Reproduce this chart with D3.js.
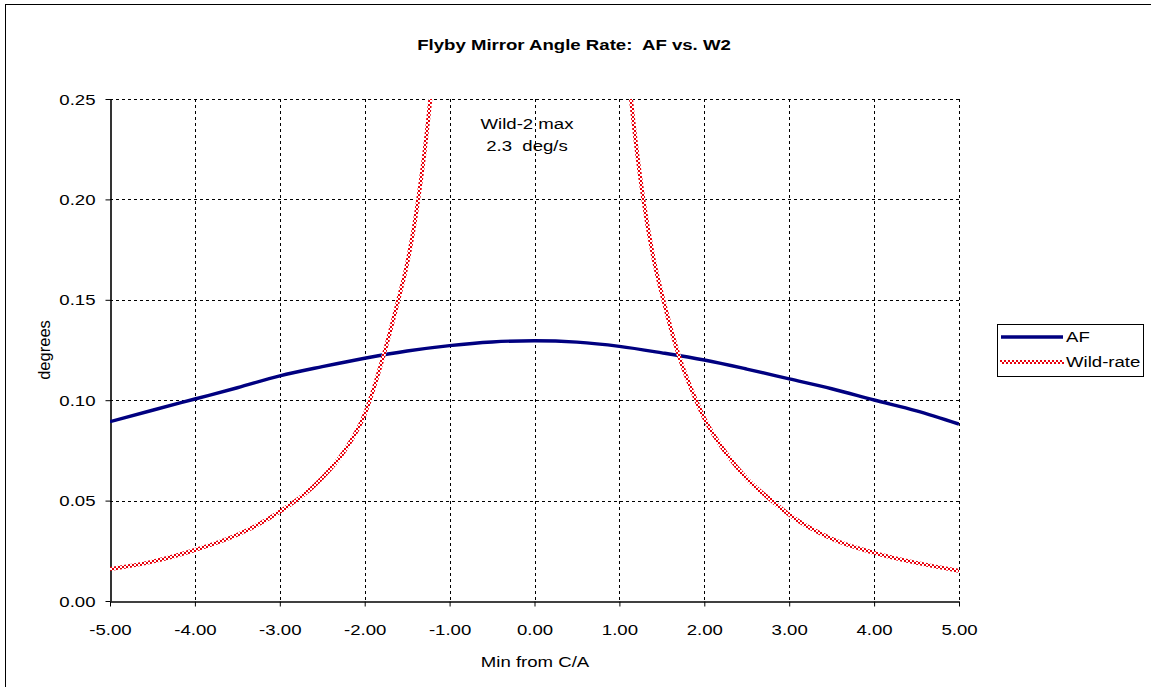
<!DOCTYPE html>
<html>
<head>
<meta charset="utf-8">
<script src="https://cdn.jsdelivr.net/npm/d3@7/dist/d3.min.js"></script>
<style>
  html, body { margin: 0; padding: 0; background: #fff; }
  svg { display: block; }
  text { font-family: "Liberation Sans", Arial, sans-serif; fill: #000; white-space: pre; }
</style>
</head>
<body>
<svg id="chart" width="1151" height="687"></svg>
<script>
// Minutes from closest approach and angle rates (degrees)
const afMinutes = [-5, -4.5, -4, -3.5, -3, -2.5, -2, -1.5, -1, -0.5, 0, 0.5, 1, 1.5, 2, 2.5, 3, 3.5, 4, 4.5, 5];
const afValues  = [0.0893, 0.0950, 0.1006, 0.1062, 0.1121, 0.1167, 0.1209, 0.1245, 0.1272, 0.1290, 0.1296,
                   0.1289, 0.1268, 0.1236, 0.1200, 0.1155, 0.1106, 0.1057, 0.1001, 0.0947, 0.0881];

const wildMinutes = [-5, -4.5, -4, -3.5, -3, -2.5, -2.25, -2, -1.773, -1.604, -1.5, -1.38, -1.3, -1.227, -1.2,
                     0,
                     1.11, 1.137, 1.2, 1.282, 1.4, 1.517, 1.694, 1.902, 2, 2.25, 2.5, 2.794, 3, 3.5, 4, 4.5, 5];
const wildValues  = [0.0159, 0.0196, 0.0254, 0.0330, 0.0445, 0.0613, 0.0740, 0.0930, 0.123, 0.150, 0.168, 0.197, 0.222, 0.250, 0.262,
                     2.3,
                     0.262, 0.250, 0.226, 0.200, 0.171, 0.150, 0.123, 0.100, 0.091, 0.074, 0.061, 0.050, 0.043, 0.031, 0.024, 0.019, 0.0151];

const xTicks = [-5, -4, -3, -2, -1, 0, 1, 2, 3, 4, 5];
const yTicks = [0, 0.05, 0.10, 0.15, 0.20, 0.25];

const seriesNames = ["AF", "Wild-rate"];
const titleText = "Flyby Mirror Angle Rate:  AF vs. W2";
const xLabel = "Min from C/A";
const yLabel = "degrees";
const noteLines = ["Wild-2 max", "2.3  deg/s"];

const STRETCH = 1.2;       // horizontal widening of the chart lettering
const FONT = 15.5;

const svg = d3.select("#chart");
const plot = { left: 110, top: 99, right: 959, bottom: 601 };

const x = d3.scaleLinear().domain([-5, 5]).range([plot.left, plot.right]);
const y = d3.scaleLinear().domain([0, 0.25]).range([plot.bottom, plot.top]);
const fmt = d => d.toFixed(2);

// chart frame
svg.append("rect")
  .attr("x", 5.5).attr("y", 4.5).attr("width", 1200).attr("height", 800)
  .attr("fill", "#fff").attr("stroke", "#000").attr("stroke-width", 1);

const defs = svg.append("defs");
const checker = defs.append("pattern")
  .attr("id", "checker").attr("patternUnits", "userSpaceOnUse")
  .attr("width", 4).attr("height", 4);
checker.append("rect").attr("width", 4).attr("height", 4).attr("fill", "#fff");
checker.append("rect").attr("x", 0).attr("y", 0).attr("width", 2).attr("height", 2).attr("fill", "#e8000b");
checker.append("rect").attr("x", 2).attr("y", 2).attr("width", 2).attr("height", 2).attr("fill", "#e8000b");

defs.append("clipPath").attr("id", "plotClip")
  .append("rect")
  .attr("x", plot.left).attr("y", plot.top)
  .attr("width", plot.right - plot.left).attr("height", plot.bottom - plot.top);

// gridlines
const grid = svg.append("g").attr("stroke", "#000").attr("stroke-width", 1)
  .attr("stroke-dasharray", "3,3");
grid.selectAll("line.gx").data(xTicks.filter(d => d > -5)).join("line")
  .attr("x1", d => Math.round(x(d)) + 0.5).attr("x2", d => Math.round(x(d)) + 0.5)
  .attr("y1", plot.top).attr("y2", plot.bottom);
grid.selectAll("line.gy").data(yTicks.filter(d => d > 0)).join("line")
  .attr("y1", d => Math.round(y(d)) + 0.5).attr("y2", d => Math.round(y(d)) + 0.5)
  .attr("x1", plot.left).attr("x2", plot.right);

// axes
const xAxis = svg.append("g")
  .attr("transform", `translate(0,${plot.bottom + 0.5})`)
  .call(d3.axisBottom(x).tickValues(xTicks).tickFormat(fmt).tickSizeInner(5).tickSizeOuter(0).tickPadding(0));
const yAxis = svg.append("g")
  .attr("transform", `translate(${plot.left + 0.5},0)`)
  .call(d3.axisLeft(y).tickValues(yTicks).tickFormat(fmt).tickSizeInner(5).tickSizeOuter(0).tickPadding(0));

[xAxis, yAxis].forEach(g => {
  g.select(".domain").attr("stroke", "#000").attr("stroke-width", 1.6);
  g.selectAll(".tick line").attr("stroke", "#000");
  g.selectAll(".tick text").attr("font-size", FONT).attr("font-family", "Liberation Sans, Arial, sans-serif").attr("fill", "#000");
});
xAxis.selectAll(".tick text").attr("y", 0).attr("dy", 0)
  .attr("transform", `translate(0,33) scale(${STRETCH},1)`);
yAxis.selectAll(".tick text").attr("x", 0).attr("dy", 0)
  .attr("transform", `translate(-15,5) scale(${STRETCH},1)`);

// series
const afLine = d3.line().x(d => x(d[0])).y(d => y(d[1])).curve(d3.curveMonotoneX);
const wildLine = d3.line().x(d => x(d[0])).y(d => y(d[1])).curve(d3.curveMonotoneX);
const afData = afMinutes.map((m, i) => [m, afValues[i]]);
const wildData = wildMinutes.map((m, i) => [m, wildValues[i]]);

const series = svg.append("g").attr("clip-path", "url(#plotClip)");
series.append("path").datum(afData).attr("d", afLine)
  .attr("fill", "none").attr("stroke", "#000080").attr("stroke-width", 3.4);
series.append("path").datum(wildData).attr("d", wildLine)
  .attr("fill", "none").attr("stroke", "url(#checker)").attr("stroke-width", 4);

// title and labels
function stretchedText(parent, tx, ty, str, opts = {}) {
  return parent.append("text")
    .attr("transform", `translate(${tx},${ty}) scale(${opts.sx || STRETCH},1)`)
    .attr("text-anchor", opts.anchor || "middle")
    .attr("font-size", opts.size || FONT)
    .attr("font-weight", opts.weight || "normal")
    .text(str);
}
stretchedText(svg, 574, 50, titleText, { weight: "bold" });
stretchedText(svg, 535, 667, xLabel);
svg.append("text")
  .attr("transform", "translate(50,350) rotate(-90)")
  .attr("text-anchor", "middle").attr("font-size", 16.5)
  .text(yLabel);

noteLines.forEach((t, i) => stretchedText(svg, 527, 129 + i * 22, t));

// legend
const legend = svg.append("g");
legend.append("rect")
  .attr("x", 997.5).attr("y", 324.5).attr("width", 146).attr("height", 52)
  .attr("fill", "#fff").attr("stroke", "#000").attr("stroke-width", 1);
legend.append("line").attr("x1", 1001).attr("x2", 1063).attr("y1", 337).attr("y2", 337)
  .attr("stroke", "#000080").attr("stroke-width", 3.4);
legend.append("line").attr("x1", 1000).attr("x2", 1064).attr("y1", 362).attr("y2", 362)
  .attr("stroke", "url(#checker)").attr("stroke-width", 4);
seriesNames.forEach((n, i) => stretchedText(legend, 1066, 342 + i * 25, n, { anchor: "start" }));
</script>
</body>
</html>
